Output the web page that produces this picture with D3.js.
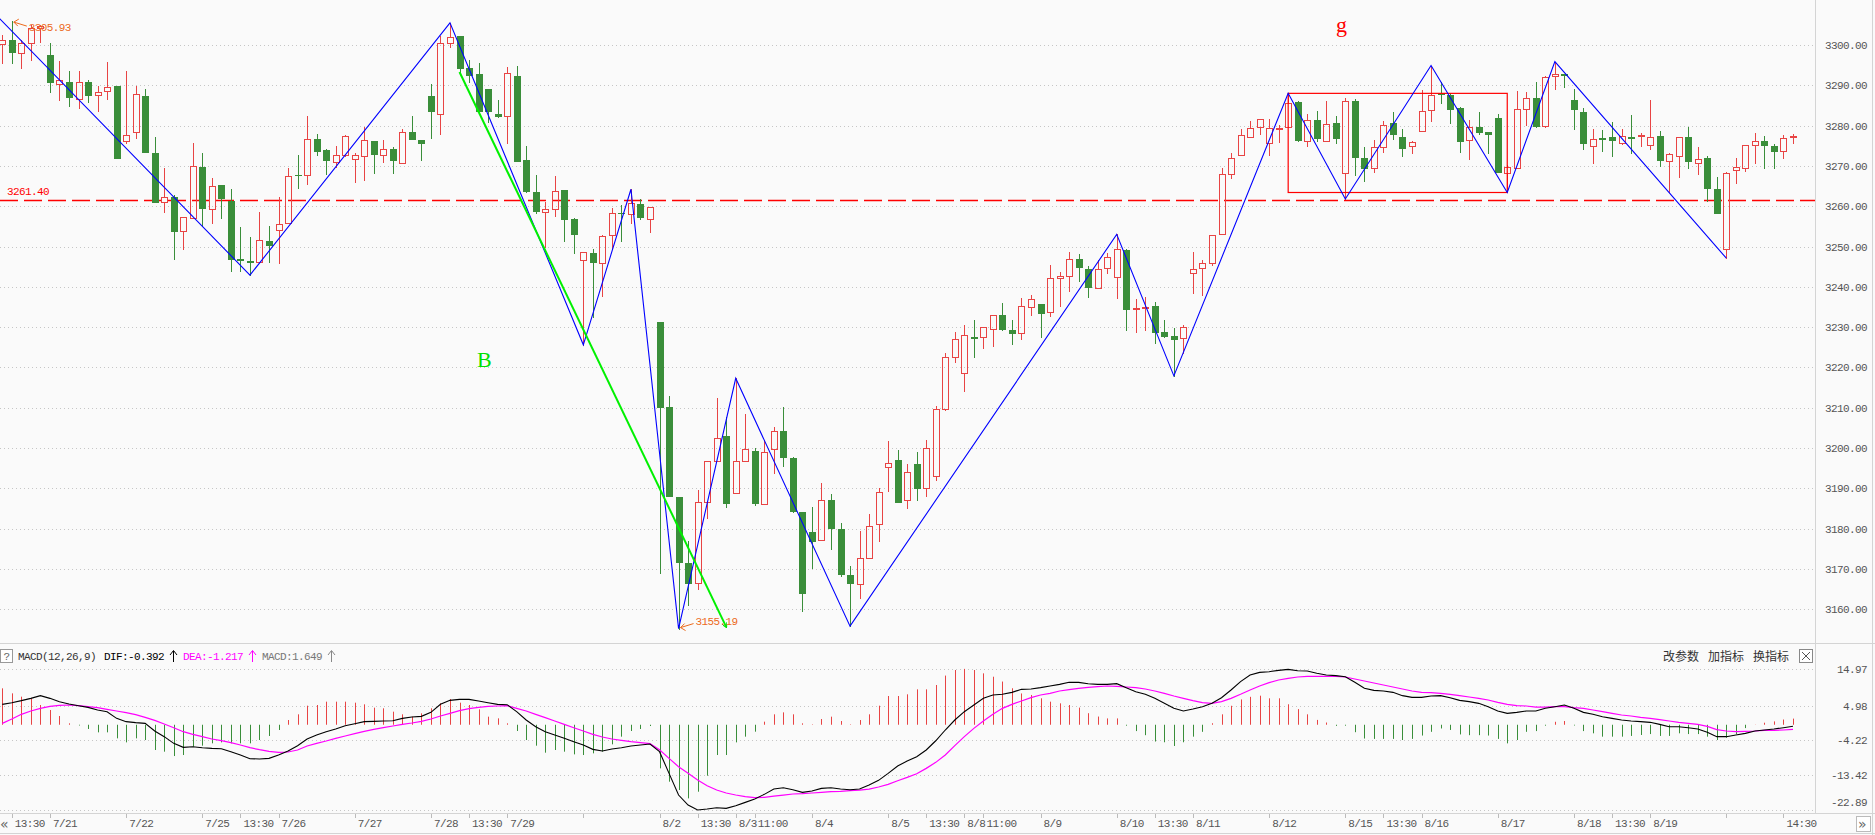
<!DOCTYPE html>
<html><head><meta charset="utf-8">
<script src="https://cdn.jsdelivr.net/npm/d3@7/dist/d3.min.js"></script>
<style>
html,body{margin:0;padding:0;background:#fafafa;overflow:hidden;}
svg{display:block;}
.mono{font-family:"Liberation Mono","DejaVu Sans Mono",monospace;font-size:11px;letter-spacing:-0.6px;}
.cjk{font-family:"Noto Sans CJK SC","Noto Sans",sans-serif;font-size:12px;}
</style></head><body>
<svg id="c" width="1875" height="835"></svg>
<script>
// ---------- DATA ----------
const openP=[3300.3,3301.2,3297.9,3300.4,3304.2,3297.5,3290.3,3290.8,3286.7,3290.8,
3287.5,3288.5,3289.8,3276.1,3278.3,3287.3,3273.2,3261.0,3262.3,3253.8,
3257.0,3269.8,3259.2,3265.3,3261.3,3246.8,3246.3,3246.1,3251.4,3254.0,
3255.9,3267.8,3267.7,3276.6,3273.9,3270.9,3272.6,3271.6,3272.5,3276.2,
3272.7,3274.2,3270.8,3278.4,3276.4,3287.3,3283.0,3300.4,3302.2,3294.2,
3292.8,3289.0,3283.0,3282.5,3292.3,3271.5,3263.6,3258.6,3259.2,3264.0,
3256.8,3246.6,3248.3,3245.8,3252.8,3258.3,3258.0,3260.5,3256.7,3231.3,
3210.1,3187.9,3171.5,3166.4,3186.5,3196.8,3203.0,3188.8,3196.8,3199.3,
3186.0,3199.7,3204.2,3197.4,3184.0,3179.2,3177.2,3187.2,3179.8,3168.5,
3166.2,3172.6,3181.1,3195.2,3197.0,3187.0,3196.0,3190.0,3193.0,3209.8,
3222.5,3218.7,3227.6,3227.6,3229.6,3233.0,3229.4,3228.5,3234.9,3235.7,
3233.7,3242.1,3242.6,3246.8,3244.3,3239.6,3244.6,3242.4,3249.1,3234.4,
3234.7,3235.2,3228.8,3227.8,3227.2,3243.4,3244.6,3245.8,3253.0,3267.9,
3272.6,3277.1,3279.6,3275.6,3279.1,3279.6,3285.8,3276.3,3281.3,3276.1,
3280.6,3268.2,3286.2,3272.0,3269.6,3274.8,3280.6,3277.2,3274.9,3278.6,
3283.9,3288.0,3287.6,3284.3,3276.4,3279.6,3278.3,3282.0,3268.2,3269.4,
3284.2,3286.8,3279.9,3292.2,3292.8,3286.3,3283.3,3274.9,3276.8,3277.1,
3275.6,3277.2,3277.3,3275.3,3277.3,3271.2,3272.5,3277.1,3270.6,3271.9,
3264.2,3249.5,3269.0,3269.6,3275.2,3276.3,3274.9,3273.7,3277.1];
const highP=[3302.5,3305.93,3301.2,3305.0,3305.0,3300.6,3296.0,3293.5,3293.5,3291.3,
3289.8,3295.9,3289.8,3293.5,3289.8,3289.1,3277.2,3269.4,3262.8,3257.2,
3275.6,3273.1,3267.1,3265.3,3264.3,3254.9,3252.4,3258.6,3255.1,3262.4,
3269.4,3272.7,3282.4,3277.8,3274.2,3275.0,3277.7,3273.3,3279.7,3276.2,
3276.4,3274.8,3279.2,3282.4,3276.4,3290.3,3302.2,3305.5,3302.2,3296.3,
3295.5,3289.0,3286.4,3294.6,3294.8,3274.9,3267.7,3261.1,3267.5,3264.0,
3257.0,3248.6,3249.5,3252.9,3259.5,3260.3,3264.2,3261.9,3259.7,3231.3,
3212.9,3187.9,3176.8,3189.6,3196.8,3212.3,3207.8,3217.3,3208.4,3200.0,
3202.0,3205.2,3210.1,3197.7,3184.0,3185.4,3191.3,3188.6,3181.3,3170.7,
3179.5,3183.5,3190.0,3201.7,3199.5,3196.0,3199.0,3202.0,3210.5,3223.5,
3228.7,3230.5,3231.8,3230.1,3233.1,3235.9,3231.8,3237.1,3238.0,3235.7,
3245.4,3243.7,3248.7,3248.1,3245.2,3246.6,3248.5,3253.0,3249.5,3236.9,
3237.4,3236.2,3231.8,3229.7,3230.4,3248.6,3246.6,3252.8,3269.4,3273.1,
3279.2,3281.1,3281.6,3281.6,3280.2,3288.0,3286.1,3282.9,3283.6,3286.1,
3282.4,3286.8,3286.5,3274.8,3276.4,3281.1,3283.4,3279.2,3276.3,3288.9,
3294.9,3290.9,3288.0,3284.7,3281.4,3283.3,3278.5,3283.0,3270.2,3288.6,
3288.4,3290.8,3292.3,3295.9,3292.9,3289.1,3284.3,3279.2,3278.9,3280.8,
3279.2,3282.6,3278.1,3286.4,3278.7,3273.3,3277.1,3279.6,3274.8,3272.5,
3267.3,3268.6,3271.9,3275.3,3278.1,3277.3,3275.4,3277.7,3277.9];
const lowP=[3295.6,3295.5,3294.2,3296.4,3300.7,3288.4,3286.4,3284.9,3284.3,3285.9,
3283.7,3286.7,3272.0,3275.8,3276.8,3273.5,3261.1,3258.5,3246.8,3249.5,
3257.0,3255.1,3255.9,3257.0,3244.0,3244.0,3242.9,3246.1,3246.2,3245.8,
3255.9,3264.6,3265.5,3272.7,3267.9,3269.8,3272.5,3265.9,3266.4,3268.3,
3271.0,3268.3,3270.8,3276.7,3271.5,3277.0,3277.9,3299.4,3293.4,3290.7,
3283.5,3281.0,3282.1,3275.6,3271.3,3263.6,3258.4,3250.0,3257.6,3251.4,
3248.4,3225.6,3232.6,3237.8,3249.3,3251.4,3255.8,3256.8,3253.7,3168.9,
3188.2,3155.19,3161.0,3165.0,3182.6,3196.8,3185.4,3188.8,3196.8,3185.8,
3186.0,3193.9,3195.6,3184.0,3159.6,3170.2,3177.2,3174.9,3168.3,3155.8,
3162.7,3172.6,3176.8,3189.4,3186.7,3185.0,3187.0,3188.0,3192.0,3209.5,
3221.4,3214.2,3222.7,3224.7,3225.4,3229.4,3225.8,3227.0,3233.0,3227.6,
3232.8,3235.2,3239.0,3241.5,3237.4,3239.6,3243.4,3237.1,3229.4,3228.9,
3229.4,3226.1,3227.6,3217.9,3223.5,3238.5,3238.0,3245.4,3253.0,3266.9,
3272.6,3277.1,3277.9,3272.7,3276.0,3279.6,3276.2,3274.9,3276.2,3276.1,
3275.8,3261.8,3267.7,3266.3,3268.6,3273.5,3276.7,3272.5,3273.3,3278.6,
3281.1,3285.7,3280.7,3273.5,3271.6,3278.0,3273.1,3268.6,3263.4,3269.4,
3280.1,3279.6,3279.6,3289.2,3289.7,3279.2,3274.3,3270.6,3273.8,3272.5,
3275.4,3273.3,3275.0,3274.3,3270.0,3263.4,3267.3,3269.4,3268.0,3261.3,
3258.2,3247.1,3265.7,3268.8,3270.8,3269.4,3269.4,3271.9,3275.6];
const closeP=[3301.2,3298.3,3300.4,3304.1,3304.6,3290.7,3291.3,3287.2,3290.7,3287.7,
3288.3,3289.5,3272.0,3277.6,3287.8,3273.5,3261.1,3262.2,3253.9,3257.2,
3270.0,3259.5,3265.0,3262.1,3246.8,3246.6,3246.1,3251.6,3250.4,3255.7,
3267.5,3267.7,3276.6,3273.8,3271.5,3272.7,3277.4,3272.6,3276.4,3273.0,
3274.1,3271.5,3278.3,3276.7,3275.8,3283.7,3300.4,3301.9,3294.4,3292.6,
3283.5,3283.5,3282.5,3293.0,3271.3,3263.8,3258.8,3259.2,3263.7,3256.8,
3253.2,3248.6,3246.2,3252.6,3258.2,3258.2,3260.7,3257.2,3259.7,3210.1,
3188.2,3171.8,3166.6,3186.5,3196.8,3202.4,3186.4,3196.8,3199.7,3186.4,
3198.9,3204.2,3197.7,3184.4,3163.9,3176.9,3187.2,3180.1,3168.7,3166.6,
3172.6,3180.6,3189.0,3196.4,3186.7,3194.0,3190.0,3200.0,3209.6,3222.5,
3227.0,3228.0,3227.4,3230.0,3233.0,3229.6,3228.6,3235.3,3236.9,3233.4,
3242.1,3242.6,3246.8,3244.8,3240.0,3244.3,3247.3,3249.5,3234.6,3234.8,
3235.1,3228.9,3227.9,3227.0,3230.0,3244.3,3245.8,3252.8,3267.9,3271.9,
3277.6,3279.3,3281.6,3279.3,3279.3,3285.5,3276.4,3281.3,3276.8,3280.3,
3277.0,3286.0,3272.2,3269.6,3274.6,3280.1,3277.8,3274.5,3275.9,3283.5,
3287.5,3287.8,3284.0,3276.3,3279.7,3278.3,3278.0,3268.6,3269.8,3284.2,
3286.8,3279.9,3292.0,3292.7,3292.6,3284.0,3275.8,3276.6,3276.6,3276.4,
3277.3,3277.0,3277.5,3277.1,3271.5,3273.0,3277.1,3271.1,3271.6,3264.6,
3258.2,3268.2,3269.8,3275.2,3276.3,3275.2,3273.7,3276.9,3277.5];

const difV=[5.48,5.93,6.47,7.09,7.81,7.09,6.20,5.57,5.12,4.67,
3.96,3.51,1.72,0.83,0.56,0.38,-1.68,-3.20,-4.99,-6.07,
-5.89,-6.16,-6.34,-6.43,-7.23,-8.13,-9.11,-9.20,-9.02,-8.13,
-7.05,-5.62,-3.83,-2.76,-1.86,-1.14,-0.25,0.29,0.83,0.91,
1.00,1.09,1.72,2.08,2.26,3.33,5.48,6.55,6.82,6.82,
6.38,5.93,5.48,5.39,3.51,1.27,-0.52,-1.86,-2.76,-3.65,
-4.55,-5.44,-6.61,-7.05,-6.52,-6.16,-5.71,-5.44,-5.17,-7.23,
-13.05,-18.87,-21.56,-22.89,-22.63,-22.27,-22.45,-21.74,-20.84,-19.95,
-18.69,-17.26,-16.90,-17.44,-18.15,-17.80,-17.08,-16.90,-17.26,-17.44,
-17.26,-16.18,-14.93,-13.05,-11.08,-9.74,-8.58,-6.78,-4.30,
-1.41,1.27,3.51,5.30,7.09,7.99,8.17,8.70,9.51,9.60,
9.96,10.40,10.85,11.39,11.39,11.03,10.85,10.85,11.03,9.96,
8.88,8.17,7.09,5.75,4.41,3.69,4.23,4.85,5.75,7.27,
9.33,11.57,13.36,14.07,14.25,14.61,14.88,14.52,14.43,13.81,
13.36,13.18,12.91,11.39,9.78,9.24,9.06,8.70,7.81,7.36,
7.36,7.72,7.81,7.27,6.55,6.20,5.75,4.85,3.69,3.06,
3.33,3.69,3.69,4.41,4.85,5.30,4.41,3.33,2.80,2.17,
1.72,1.27,1.00,0.83,0.65,0.11,-0.52,-0.52,-0.79,-1.14,
-2.04,-3.20,-3.20,-2.76,-2.31,-1.68,-1.41,-1.14,-0.79,-0.392];
const deaV=[0.38,1.54,2.80,3.69,4.41,4.94,5.21,5.30,5.12,4.85,
4.59,4.14,3.69,3.24,2.71,1.99,1.18,0.20,-0.79,-1.86,
-2.58,-3.20,-3.83,-4.28,-4.82,-5.44,-6.16,-6.70,-7.14,-7.41,
-7.32,-6.78,-5.71,-4.99,-4.37,-3.65,-3.02,-2.40,-1.77,-1.23,
-0.79,-0.34,0.11,0.47,0.91,1.54,2.35,3.06,3.78,4.32,
4.67,4.94,5.03,5.12,4.41,3.69,2.80,1.90,1.00,0.11,
-0.79,-1.68,-2.58,-3.29,-3.83,-4.19,-4.55,-4.82,-5.08,-6.70,
-9.02,-11.26,-13.05,-14.84,-16.36,-17.53,-18.33,-18.87,-19.32,-19.59,
-19.50,-19.14,-18.87,-18.60,-18.51,-18.33,-18.15,-17.98,-17.89,-17.71,
-17.53,-17.26,-16.72,-16.01,-15.02,-14.13,-13.14,-11.71,-10.10,
-8.13,-5.62,-3.20,-0.97,1.00,2.80,4.41,5.48,6.38,7.27,
7.99,8.43,9.06,9.42,9.78,10.05,10.23,10.40,10.31,10.14,
9.96,9.60,9.06,8.43,7.72,7.09,6.47,5.93,5.75,6.20,
7.09,8.17,9.33,10.40,11.30,12.01,12.46,12.82,13.00,13.00,
13.00,13.00,12.82,12.29,11.75,11.21,10.67,10.14,9.60,9.06,
8.70,8.61,8.43,8.17,7.81,7.45,7.09,6.64,6.02,5.48,
5.12,5.03,4.76,4.76,4.85,4.85,4.59,4.41,3.96,3.51,
3.06,2.62,2.35,1.99,1.72,1.36,1.00,0.65,0.38,0.11,
-0.43,-1.32,-1.68,-1.86,-1.77,-1.68,-1.50,-1.50,-1.41,-1.217];
const histV=[9.78,8.43,7.54,7.09,5.30,3.96,2.35,0.38,-0.20,-1.14,
-2.04,-2.04,-3.65,-4.73,-3.65,-4.10,-6.78,-7.23,-8.40,-8.13,
-5.89,-5.62,-4.99,-4.73,-4.99,-4.99,-4.99,-4.10,-3.02,-1.41,
1.27,2.80,5.12,5.30,6.20,6.20,6.20,5.93,5.48,4.59,
4.41,3.51,2.80,2.17,3.06,4.41,5.75,6.91,5.93,5.30,
4.14,2.17,1.72,0.38,-1.68,-4.10,-5.62,-7.50,-6.78,-7.23,
-7.95,-8.13,-7.68,-7.23,-5.26,-3.20,-1.68,-1.14,-0.34,-11.71,
-15.29,-17.53,-19.77,-17.98,-13.68,-8.13,-8.13,-4.73,-3.20,-1.86,
0.83,2.80,3.33,2.80,0.38,0.11,1.54,2.17,1.00,0.11,
1.27,2.80,5.12,7.72,7.72,8.17,9.51,9.51,10.67,
13.2,14.7,15.0,14.7,13.8,12.9,11.6,9.8,8.4,8.0,
7.1,6.2,5.75,5.3,4.6,3.1,2.2,1.7,1.7,-0.25,
-1.7,-2.8,-4.5,-4.7,-5.7,-4.7,-3.2,-1.9,0.4,2.8,
5.1,6.8,7.5,7.8,7.1,7.1,5.5,4.2,2.8,1.3,
0.6,-0.3,-0.25,-2.0,-3.7,-3.8,-3.8,-3.8,-4.1,-3.8,
-2.9,-1.9,-1.0,-1.4,-2.6,-2.8,-2.8,-2.9,-3.8,-5.0,
-4.1,-1.9,-1.7,-0.25,0.8,1.0,-0.2,-1.7,-2.3,-3.2,
-3.2,-3.2,-3.0,-2.75,-2.5,-3.0,-3.0,-2.3,-2.5,-2.5,
-3.2,-4.1,-3.5,-2.5,-0.9,0.05,0.55,0.9,1.4,1.649];

const priceTicks=[3300,3290,3280,3270,3260,3250,3240,3230,3220,3210,3200,3190,3180,3170,3160];
const macdTicks=[14.97,4.98,-4.22,-13.42,-22.89];
const timeTickIndex=[1,5,13,21,25,29,37,45,49,53,61,69,73,77,79,85,93,97,101,103,109,117,121,125,133,141,145,149,157,165,169,173,181,187];
const timeTickText=["13:30","7/21","7/22","7/25","13:30","7/26","7/27","7/28","13:30","7/29","","8/2","13:30","8/3","11:00","8/4","8/5","13:30","8/8","11:00","8/9","8/10","13:30","8/11","8/12","8/15","13:30","8/16","8/17","8/18","13:30","8/19","","14:30"];
const zzIndex=[-1,26,47,61,66,71,77,89,117,123,135,141,150,158,163,181];
const zzValue=[3308.3,3242.9,3305.5,3225.6,3264.2,3155.19,3217.3,3155.8,3253.0,3217.9,3288.0,3261.8,3294.9,3263.4,3295.9,3247.1];
const bLineIndex=[48,76];
const bLineValue=[3293.3,3155.6];
const boxIndex=[135,158];
const boxValue=[3288.0,3263.4];
const levelValue=3261.40;
const maxMark={i:1,v:3305.93};
const minMark={i:71,v:3155.19};

// ---------- LAYOUT ----------
const W=1875,H=835,PR=1815;
const N=openP.length;
const x=d3.scaleLinear().domain([0,N-1]).range([2.3,1793]);
const y=d3.scaleLinear().domain([3160,3300]).range([609.2,45]);
const ym=d3.scaleLinear().domain([-22.89,14.97]).range([810,669]);
const RED="#e84444",GREEN="#3a8e3a",ORANGE="#ec6a1c";
const px=v=>Math.round(v)+0.5;

const svg=d3.select("#c");
svg.append("rect").attr("width",W).attr("height",H).attr("fill","#fafafa");
const defs=svg.append("defs");
defs.append("clipPath").attr("id","mainClip").append("rect").attr("x",0).attr("y",0).attr("width",PR).attr("height",643);
defs.append("marker").attr("id","garrow").attr("viewBox","0 0 10 10").attr("refX",8).attr("refY",5)
 .attr("markerWidth",5).attr("markerHeight",5).attr("orient","auto").attr("markerUnits","userSpaceOnUse")
 .append("path").attr("d","M0,0 L10,5 L0,10").attr("fill","none").attr("stroke","#00e000").attr("stroke-width",2);

// grids
const g1=svg.append("g").attr("stroke","#c6c6c6").attr("stroke-dasharray","1,3");
g1.selectAll("line.pg").data(priceTicks).join("line").attr("class","pg")
 .attr("x1",0).attr("x2",PR).attr("y1",d=>px(y(d))).attr("y2",d=>px(y(d)));
g1.selectAll("line.mg").data(macdTicks).join("line").attr("class","mg")
 .attr("x1",0).attr("x2",PR).attr("y1",d=>px(ym(d))).attr("y2",d=>px(ym(d)));

// frame lines
const fr=svg.append("g").attr("stroke","#d4d4d4").attr("stroke-width",1);
fr.append("line").attr("x1",0).attr("x2",W).attr("y1",643.5).attr("y2",643.5);
fr.append("line").attr("x1",0).attr("x2",W).attr("y1",813.5).attr("y2",813.5);
fr.append("line").attr("x1",0).attr("x2",W).attr("y1",833.5).attr("y2",833.5);
fr.append("line").attr("x1",PR+0.5).attr("x2",PR+0.5).attr("y1",0).attr("y2",813);
fr.append("line").attr("x1",1872.5).attr("x2",1872.5).attr("y1",0).attr("y2",835);

// level line
const main=svg.append("g").attr("clip-path","url(#mainClip)");
main.append("line").attr("x1",0).attr("x2",PR).attr("y1",y(levelValue)).attr("y2",y(levelValue))
 .attr("stroke","#ff0000").attr("stroke-width",1.5).attr("stroke-dasharray","18,6");

// candles
const bars=d3.range(N).map(i=>({i,o:openP[i],h:highP[i],l:lowP[i],c:closeP[i]}));
const cg=main.append("g");
bars.forEach(b=>{
  const cx=Math.round(x(b.i));
  const yt=Math.round(y(Math.max(b.o,b.c))), yb=Math.round(y(Math.min(b.o,b.c)));
  const yh=Math.round(y(b.h)), yl=Math.round(y(b.l));
  if(b.c>b.o){
    if(yt>yh) cg.append("line").attr("x1",cx+0.5).attr("x2",cx+0.5).attr("y1",yh).attr("y2",yt).attr("stroke",RED);
    if(yl>yb) cg.append("line").attr("x1",cx+0.5).attr("x2",cx+0.5).attr("y1",yb+1).attr("y2",yl+1).attr("stroke",RED);
    if(yb-yt<1){
      cg.append("rect").attr("x",cx-3).attr("y",yt-1).attr("width",7).attr("height",2).attr("fill",RED);
    } else {
      cg.append("rect").attr("x",cx-2.5).attr("y",yt+0.5).attr("width",6).attr("height",yb-yt)
        .attr("fill","none").attr("stroke",RED);
    }
  } else {
    cg.append("line").attr("x1",cx+0.5).attr("x2",cx+0.5).attr("y1",yh).attr("y2",yl+1).attr("stroke",GREEN);
    cg.append("rect").attr("x",cx-3).attr("y",yt).attr("width",7).attr("height",Math.max(1,yb-yt+1)).attr("fill",GREEN);
  }
});

// red box
main.append("rect").attr("x",x(boxIndex[0])).attr("y",y(boxValue[0]))
 .attr("width",x(boxIndex[1])-x(boxIndex[0])).attr("height",y(boxValue[1])-y(boxValue[0]))
 .attr("fill","none").attr("stroke","#ff0000").attr("stroke-width",1.2);

// zigzag
main.append("path").datum(d3.range(zzIndex.length))
 .attr("d",d3.line().x(k=>x(zzIndex[k])).y(k=>y(zzValue[k])))
 .attr("fill","none").attr("stroke","#0000ff").attr("stroke-width",1.1);

// B line
main.append("path").datum([0,1])
 .attr("d",d3.line().x(k=>x(bLineIndex[k])).y(k=>y(bLineValue[k])))
 .attr("fill","none").attr("stroke","#00f000").attr("stroke-width",2).attr("marker-end","url(#garrow)");

// labels main
svg.append("text").attr("class","mono").attr("x",7).attr("y",y(levelValue)-6).attr("fill","#ff0000").text(levelValue.toFixed(2));
const mx=x(maxMark.i), my=y(maxMark.v);
svg.append("path").attr("d",`M${mx+15},${my+5} L${mx+2},${my+1} M${mx+2},${my+1} l5,-3 M${mx+2},${my+1} l4,4`).attr("stroke",ORANGE).attr("fill","none");
svg.append("text").attr("class","mono").attr("x",mx+17).attr("y",my+10).attr("fill",ORANGE).text(maxMark.v.toFixed(2));
const nx=x(minMark.i), ny=y(minMark.v);
svg.append("path").attr("d",`M${nx+15},${ny-5} L${nx+2},${ny-1} M${nx+2},${ny-1} l4,-4 M${nx+2},${ny-1} l5,3`).attr("stroke",ORANGE).attr("fill","none");
svg.append("text").attr("class","mono").attr("x",nx+17).attr("y",ny-4).attr("fill",ORANGE).text(minMark.v.toFixed(2));
svg.append("text").attr("x",477).attr("y",367).attr("fill","#00e000").style("font-family","'Liberation Serif',serif").style("font-size","22px").text("B");
svg.append("text").attr("x",1336).attr("y",32).attr("fill","#ff0000").style("font-family","'Liberation Serif',serif").style("font-size","22px").text("g");

// price axis labels
svg.append("g").selectAll("text").data(priceTicks).join("text").attr("class","mono")
 .attr("x",1867).attr("y",d=>y(d)+4).attr("text-anchor","end").attr("fill","#555").text(d=>d.toFixed(2));
svg.append("g").selectAll("text").data(macdTicks).join("text").attr("class","mono")
 .attr("x",1867).attr("y",(d,k)=>Math.min(ym(d),802)+4).attr("text-anchor","end").attr("fill","#555").text(d=>d.toFixed(2));

// MACD
const mg=svg.append("g");
mg.selectAll("line").data(d3.range(N)).join("line")
 .attr("x1",i=>Math.round(x(i))+0.5).attr("x2",i=>Math.round(x(i))+0.5)
 .attr("y1",ym(0)).attr("y2",i=>ym(histV[i])).attr("stroke",i=>histV[i]>=0?RED:GREEN);
mg.append("path").datum(d3.range(N)).attr("d",d3.line().x(i=>x(i)).y(i=>ym(deaV[i])))
 .attr("fill","none").attr("stroke","#ff00ff").attr("stroke-width",1.2);
mg.append("path").datum(d3.range(N)).attr("d",d3.line().x(i=>x(i)).y(i=>ym(difV[i])))
 .attr("fill","none").attr("stroke","#000").attr("stroke-width",1.1);

// MACD header
const hd=svg.append("g");
hd.append("rect").attr("x",0.5).attr("y",649.5).attr("width",12).attr("height",13).attr("fill","#fff").attr("stroke","#999");
hd.append("text").attr("class","mono").attr("x",3.5).attr("y",660).attr("fill","#666").text("?");
hd.append("text").attr("class","mono").attr("x",18).attr("y",660).attr("fill","#333").text("MACD(12,26,9)");
hd.append("text").attr("class","mono").attr("x",104).attr("y",660).attr("fill","#000").text("DIF:"+difV[N-1].toFixed(3));
hd.append("text").attr("class","mono").attr("x",183).attr("y",660).attr("fill","#ff00ff").text("DEA:"+deaV[N-1].toFixed(3));
hd.append("text").attr("class","mono").attr("x",262).attr("y",660).attr("fill","#777").text("MACD:"+histV[N-1].toFixed(3));
[[173,"#000"],[252,"#ff00ff"],[331,"#888"]].forEach(([ax,col])=>{
  hd.append("path").attr("d",`M${ax+0.5},662 V651 M${ax-3},655 L${ax+0.5},650.5 L${ax+4},655`).attr("stroke",col).attr("fill","none");
});
hd.append("text").attr("class","cjk").attr("x",1663).attr("y",661).attr("fill","#333").text("改参数");
hd.append("text").attr("class","cjk").attr("x",1708).attr("y",661).attr("fill","#333").text("加指标");
hd.append("text").attr("class","cjk").attr("x",1753).attr("y",661).attr("fill","#333").text("换指标");
hd.append("rect").attr("x",1799.5).attr("y",649.5).attr("width",13).attr("height",13).attr("fill","#fff").attr("stroke","#888");
hd.append("path").attr("d","M1802,652 L1810,660 M1810,652 L1802,660").attr("stroke","#555");

// time axis
const ta=svg.append("g");
ta.selectAll("line").data(timeTickIndex).join("line")
 .attr("x1",i=>Math.round(x(i))+0.5).attr("x2",i=>Math.round(x(i))+0.5).attr("y1",814).attr("y2",818).attr("stroke","#bbb");
ta.selectAll("text").data(timeTickIndex).join("text").attr("class","mono")
 .attr("x",i=>x(i)+3).attr("y",827).attr("fill","#555").text((i,k)=>timeTickText[k]);
ta.append("text").attr("x",0).attr("y",829).attr("fill","#666").style("font-family","'DejaVu Sans',sans-serif").style("font-size","14px").text("«");
ta.append("rect").attr("x",1856.5).attr("y",816.5).attr("width",14).attr("height",15).attr("fill","#fff").attr("stroke","#bbb");
ta.append("text").attr("x",1858).attr("y",829).attr("fill","#666").style("font-family","'DejaVu Sans',sans-serif").style("font-size","14px").text("»");
</script>
</body></html>
